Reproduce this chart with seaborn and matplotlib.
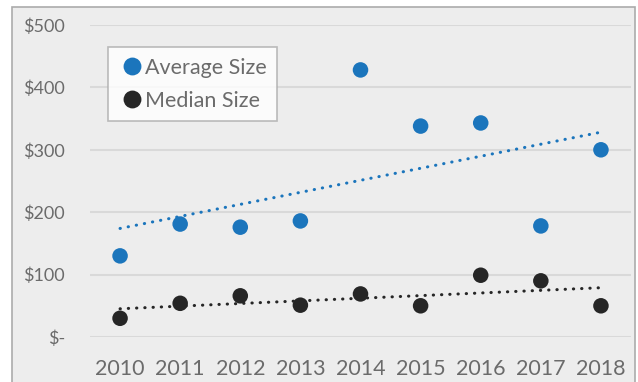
import numpy as np
import pandas as pd
import seaborn as sns
import matplotlib.pyplot as plt
from matplotlib.patches import Rectangle
from matplotlib.ticker import FuncFormatter

# values
years = [2010, 2011, 2012, 2013, 2014, 2015, 2016, 2017, 2018]
average_size = [130, 181, 176, 186, 428, 338, 343, 178, 300]
median_size = [30, 54, 66, 51, 69, 50, 99, 90, 50]
y_ticks = [0, 100, 200, 300, 400, 500]

blue = '#1b75bc'
black = '#262626'
text_col = '#6b6b6b'

df = pd.DataFrame({'year': years * 2,
                   'value': average_size + median_size,
                   'series': ['Average Size'] * len(years) + ['Median Size'] * len(years)})

sns.set_style('white')
plt.rcParams['font.family'] = ['Lato', 'DejaVu Sans']

fig = plt.figure(figsize=(6.38, 3.82), dpi=100, facecolor='white')
# grey panel with border, like the source chart area
fig.patches.append(Rectangle((12 / 638, -0.1), 623 / 638, 1.1 - 7 / 382,
                             transform=fig.transFigure, facecolor='#ededed',
                             edgecolor='#ababab', linewidth=1.2, zorder=-5))
ax = fig.add_axes([90 / 638, 1 - 337 / 382, 541 / 638, 312 / 382])
ax.set_facecolor('none')

# trend lines
for vals, col in [(average_size, blue), (median_size, black)]:
    sns.regplot(x=years, y=vals, ax=ax, ci=None, scatter=False, truncate=True,
                line_kws=dict(color=col, linewidth=2.2, linestyle=(0, (0.1, 2.6)),
                              dash_capstyle='round', zorder=2))

sns.scatterplot(data=df, x='year', y='value', hue='series', palette=[blue, black],
                s=125, edgecolor='none', ax=ax, zorder=3)

ax.set_xlim(2009.5, 2018.5)
ax.set_ylim(0, 500)
ax.set_xticks(years)
ax.set_yticks(y_ticks)
ax.yaxis.set_major_formatter(FuncFormatter(lambda v, p: '$-' if v == 0 else f'${int(v)}'))
ax.yaxis.grid(True, color='#d9d9d9', linewidth=1.5)
ax.set_axisbelow(True)
for s in ax.spines.values():
    s.set_visible(False)
ax.tick_params(axis='x', labelsize=15.5, colors=text_col, length=0, pad=16)
ax.tick_params(axis='y', labelsize=13, colors=text_col, length=0, pad=18)
ax.set_xlabel('')
ax.set_ylabel('')

leg = ax.legend(loc='upper left', bbox_to_anchor=(18 / 541, 290 / 312), frameon=True,
                fancybox=False, fontsize=15.5, handletextpad=0.0, borderpad=0.5,
                borderaxespad=0, labelspacing=0.6, markerscale=1.15, handlelength=1.2)
leg.get_frame().set_edgecolor('#ababab')
leg.get_frame().set_linewidth(1.2)
for t in leg.get_texts():
    t.set_color(text_col)

fig.savefig('out.png', dpi=100, facecolor='white')
